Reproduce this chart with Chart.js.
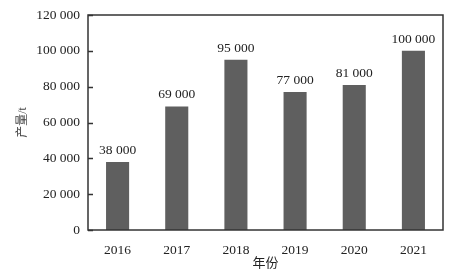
<!DOCTYPE html>
<html>
<head>
<meta charset="utf-8">
<script src="https://cdn.jsdelivr.net/npm/chart.js"></script>
<style>
  html, body { margin: 0; padding: 0; background: #fff; }
  #wrap { width: 450px; height: 275px; }
</style>
</head>
<body>
<div id="wrap"><canvas id="c"></canvas></div>
<script>
// Data
const years = ['2016', '2017', '2018', '2019', '2020', '2021'];
const output = [38000, 69000, 95000, 77000, 81000, 100000];
const yTicks = [0, 20000, 40000, 60000, 80000, 100000, 120000];

const serif = '"Liberation Serif", "Times New Roman", "Noto Sans CJK SC", serif';
const ink = '#222';

function fmt(v) {
  return String(v).replace(/\B(?=(\d{3})+(?!\d))/g, ' ');
}

// frame, inward ticks, value labels
const decor = {
  id: 'decor',
  afterDraw(chart) {
    const { ctx, chartArea: a } = chart;
    const y = chart.scales.y;
    ctx.save();
    ctx.strokeStyle = '#333';
    ctx.lineWidth = 1.5;
    ctx.strokeRect(a.left, a.top, a.right - a.left, a.bottom - a.top);
    ctx.beginPath();
    yTicks.forEach(t => {
      const py = Math.round(y.getPixelForValue(t)) + 0.5;
      ctx.moveTo(a.left, py);
      ctx.lineTo(a.left + 5, py);
    });
    ctx.stroke();

    ctx.fillStyle = ink;
    ctx.font = '13.5px ' + serif;
    ctx.textAlign = 'center';
    ctx.textBaseline = 'alphabetic';
    chart.getDatasetMeta(0).data.forEach((bar, i) => {
      ctx.fillText(fmt(output[i]), bar.x, bar.y - 8);
    });
    ctx.restore();
  }
};

new Chart(document.getElementById('c'), {
  type: 'bar',
  data: {
    labels: years,
    datasets: [{
      data: output,
      backgroundColor: '#5f5f5f',
      borderWidth: 0,
      categoryPercentage: 1,
      barPercentage: 0.39
    }]
  },
  options: {
    responsive: true,
    maintainAspectRatio: false,
    animation: false,
    layout: { padding: { top: 15, right: 7, left: 0, bottom: 0 } },
    plugins: { legend: { display: false }, tooltip: { enabled: false } },
    scales: {
      x: {
        grid: { display: false },
        border: { display: false },
        ticks: { color: ink, font: { family: serif, size: 13.5 }, padding: 4 },
        title: { display: true, text: '年份', color: ink, font: { family: serif, size: 13 }, padding: { top: 0 } },
        afterFit(s) { s.height = 45; }
      },
      y: {
        min: 0,
        max: 120000,
        grid: { display: false },
        border: { display: false },
        afterBuildTicks(s) { s.ticks = yTicks.map(v => ({ value: v })); },
        ticks: { color: ink, font: { family: serif, size: 13.5 }, padding: 0, callback: v => fmt(v) },
        title: { display: true, text: '产量/t', color: '#444', font: { family: serif, size: 12 }, padding: { top: 16 } },
        afterFit(s) { s.width = 88; }
      }
    }
  },
  plugins: [decor]
});
</script>
</body>
</html>
